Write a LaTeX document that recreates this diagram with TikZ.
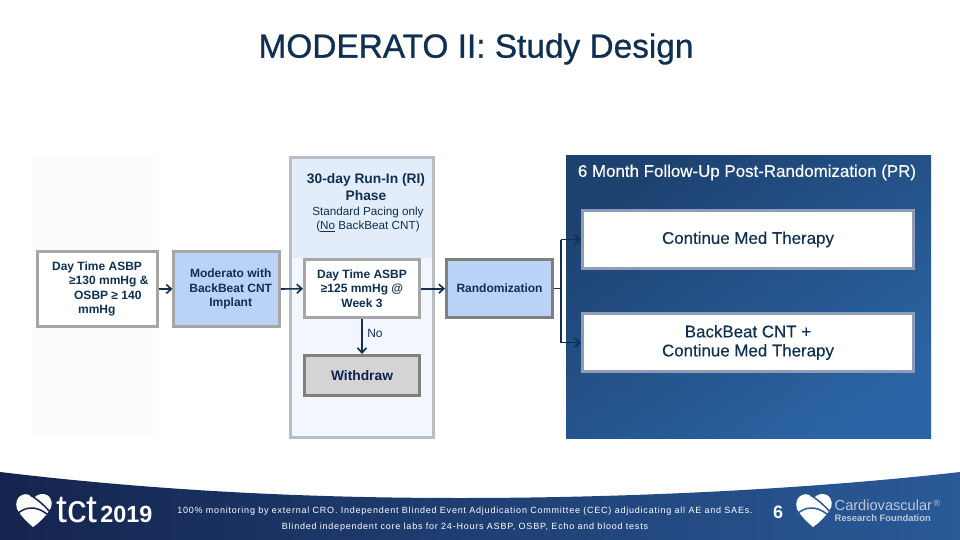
\documentclass[tikz,border=0pt]{standalone}
\usepackage{fontspec}
\setmainfont{Liberation Sans}
\usetikzlibrary{arrows.meta}
\definecolor{ink}{HTML}{0F3050}
\definecolor{boxblue}{HTML}{B9D2F5}
\definecolor{gborder}{HTML}{A6A6A6}
\definecolor{dborder}{HTML}{7F7F7F}
\definecolor{sborder}{HTML}{8E9DB5}
\definecolor{footl}{HTML}{14244E}
\definecolor{footr}{HTML}{2A5A98}
\tikzset{
 x=1pt,y=-1pt,
 box/.style={draw=gborder,line width=3pt,fill=white,minimum width=#1,inner sep=0pt,text=ink,align=center,font=\fontsize{12}{14.5}\selectfont\bfseries},
 arr/.style={draw=ink,line width=1.6pt,-{Straight Barb[length=5pt,width=9pt,line width=1.6pt]}},
 fork/.style={draw=ink,line width=1.2pt},
 plain/.style={text=ink,align=center,inner sep=0pt},
}
\newcommand{\heartlogo}[3]{%
\begin{scope}[shift={(#1,#2)}]
\fill[white] (18,4) .. controls (21,0) and (27,-1) .. (31,1) .. controls (37,5) and (37,12) .. (33,17) .. controls (29,23) and (23,29) .. (17,33) .. controls (11,28) and (5,22) .. (1,15) .. controls (-1,9) and (1,3) .. (6,1) .. controls (10,-1) and (15,1) .. (18,4) -- cycle;
\draw[#3,line width=1.5pt] (1,20) .. controls (9,13) and (19,11) .. (31,20);
\draw[#3,line width=1.5pt] (14,1) .. controls (21,5) and (27,10) .. (35,19);
\end{scope}}
\begin{document}
\begin{tikzpicture}
\useasboundingbox (0,0) rectangle (960,540);
\fill[white] (0,0) rectangle (960,540);
\node[plain,font=\fontsize{33.4}{38}\selectfont\addfontfeatures{FakeBold=0.8},anchor=center] (title) at (476,49) {MODERATO II: Study Design};
% panels
\fill[blue!1!white] (32,155) rectangle (158,438);
\fill[color={rgb,255:red,242;green,246;blue,253}] (289,156) rectangle (435,439);
\fill[color={rgb,255:red,227;green,236;blue,249}] (289,156) rectangle (435,258);
\draw[color={rgb,255:red,184;green,189;blue,198},line width=3pt] (290.5,157.5) rectangle (433.5,437.5);
\shade[left color={rgb,255:red,29;green,66;blue,112},right color={rgb,255:red,43;green,100;blue,164},shading angle=35] (566,155.5) rectangle (931,438.5);
% boxes
\node[box=119.7pt,minimum height=74.7pt,align=left] (b1) at (97.3,289) {\hspace*{6pt}Day Time ASBP\\\hspace*{23pt}≥130 mmHg \&\\\hspace*{28pt}OSBP ≥ 140\\\hspace*{32pt}mmHg};
\node[box=105.5pt,minimum height=74.7pt,fill=boxblue] (b2) at (226.7,289) {\hspace*{8pt}Moderato with\\\hspace*{8pt}BackBeat CNT\\\hspace*{8pt}Implant};
\node[box=115pt,minimum height=58.5pt] (b3) at (362,288.7) {Day Time ASBP\\≥125 mmHg @\\Week 3};
\node[box=115pt,minimum height=40pt,fill={rgb,255:red,212;green,212;blue,212},draw=dborder,text={rgb,255:red,14;green,32;blue,80},font=\fontsize{13.8}{16}\selectfont\bfseries] (wd) at (362,375.5) {Withdraw};
\node[box=106pt,minimum height=58.5pt,fill=boxblue,draw=dborder,font=\fontsize{12}{14}\selectfont\bfseries] (rd) at (499.5,288.7) {Randomization};
\node[box=331pt,minimum height=58pt,draw=sborder,font=\fontsize{16.9}{19}\selectfont\addfontfeatures{FakeBold=0.3}] (c1) at (748,239.5) {\raisebox{-5pt}{Continue Med Therapy}};
\node[box=331pt,minimum height=58pt,draw=sborder,font=\fontsize{16.9}{19}\selectfont\addfontfeatures{FakeBold=0.3}] (c2) at (748,342.5) {BackBeat CNT +\\Continue Med Therapy};
% labels
\node[plain,font=\fontsize{13.8}{17}\selectfont\bfseries] (ri) at (366,187) {30-day Run-In (RI)\\Phase};
\node[plain,font=\fontsize{11.7}{14}\selectfont] (sp) at (368,219.5) {Standard Pacing only\\(\underline{No} BackBeat CNT)};
\node[plain,font=\fontsize{12}{14}\selectfont] (no) at (375,333.5) {No};
\node[plain,text=white,font=\fontsize{16.9}{19}\selectfont\addfontfeatures{FakeBold=0.3}] (fu) at (747,172.5) {6 Month Follow-Up Post-Randomization (PR)};
% connectors
\draw[arr] (b1.east) -- (b2.west);
\draw[arr] (b2.east) -- (b3.west);
\draw[arr] (b3.east) -- (rd.west);
\draw[arr] (b3.south) -- (wd.north);
\coordinate (fk) at (561,288.7);
\draw[fork] (rd.east) -- (fk);
\draw[fork] (fk |- c1.west) -- (fk |- c2.west);
\draw[arr,line width=1.2pt] (fk |- c1.west) -- (c1.west);
\draw[arr,line width=1.2pt] (fk |- c2.west) -- (c2.west);
% footer
\shade[left color=footl,right color=footr]
 (0,472) .. controls (150,490) and (300,498) .. (460,498) .. controls (640,498) and (820,488) .. (960,472) -- (960,540) -- (0,540) -- cycle;
\heartlogo{16}{494}{footl}
\heartlogo{796}{494}{footr}
\node[anchor=base west,inner sep=0pt,text=white] (tct) at (56,522) {\fontsize{39}{40}\selectfont tct\hspace{3pt}\fontsize{23.4}{26}\selectfont\bfseries 2019};
\node[anchor=west,inner sep=0pt,text={rgb,255:red,190;green,200;blue,215},font=\fontsize{14.6}{17}\selectfont] (cv) at (834.5,505.5) {Cardiovascular\hspace{1.5pt}\raisebox{4pt}{\fontsize{9}{10}\selectfont ®}};
\node[anchor=west,inner sep=0pt,text={rgb,255:red,190;green,200;blue,215},font=\fontsize{9.4}{12}\selectfont\bfseries] (rf) at (834.5,518.5) {Research Foundation};
\node[plain,text=white,font=\fontsize{9}{15.5}\selectfont\addfontfeatures{LetterSpace=8.7}] (ft) at (465,519) {100\% monitoring by external CRO. Independent Blinded Event Adjudication Committee (CEC) adjudicating all AE and SAEs.\\Blinded independent core labs for 24-Hours ASBP, OSBP, Echo and blood tests};
\node[plain,text=white,font=\fontsize{18}{20}\selectfont\bfseries] (pg) at (778,512) {6};
\end{tikzpicture}
\end{document}
